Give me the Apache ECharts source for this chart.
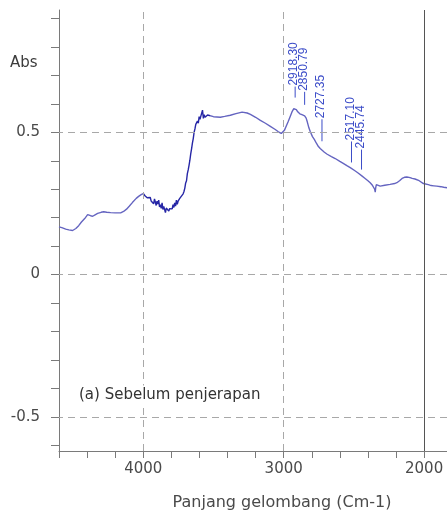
<!DOCTYPE html>
<html>
<head>
<meta charset="utf-8">
<style>
  html, body { margin: 0; padding: 0; background: #fff; overflow: hidden; }
  #chart { width: 447px; height: 516px; }
</style>
<script src="https://cdn.jsdelivr.net/npm/echarts@6/dist/echarts.min.js"></script>
</head>
<body>
<div id="chart"></div>
<script>
// IR spectrum, absorbance vs wavenumber (cm-1)
const spectrumWn = [
  4600, 4580, 4552, 4530, 4503, 4480, 4460, 4440, 4417, 4396, 4385, 4375, 4360, 4340, 4325, 4300,
  4282, 4260, 4232, 4200, 4161, 4140, 4119, 4100, 4076, 4050, 4033, 4015, 4000,
  3995, 3988, 3980, 3972, 3965, 3958, 3950, 3944, 3938, 3932, 3926, 3920, 3914, 3908, 3902, 3896,
  3890, 3884, 3878, 3872, 3866, 3860, 3854, 3848, 3842, 3836, 3830, 3824, 3818, 3812, 3806, 3800,
  3794, 3788, 3782, 3776, 3770, 3764, 3758, 3752, 3746, 3740, 3734, 3728, 3722, 3716, 3710, 3704,
  3698, 3692, 3686, 3680, 3674, 3668, 3662, 3656, 3650, 3644, 3638, 3632, 3626, 3620, 3614, 3608,
  3602, 3596, 3590, 3584, 3578, 3572, 3566, 3560, 3554, 3548, 3542, 3536, 3528,
  3500, 3451, 3420, 3380, 3340, 3296, 3260, 3237, 3200, 3166, 3130, 3095, 3060, 3038, 3017, 3005,
  2995, 2980, 2967, 2950, 2939, 2928, 2918.3, 2910, 2900, 2885, 2870, 2850.79, 2840, 2832, 2820, 2811,
  2795, 2782, 2765, 2754, 2740, 2727.35, 2710, 2690, 2660, 2633, 2600, 2576, 2550, 2526, 2517.1, 2490,
  2470, 2445.74, 2420, 2400, 2384, 2370, 2360, 2352, 2348, 2345, 2340, 2330, 2313, 2280, 2242, 2210,
  2194, 2175, 2157, 2140, 2123, 2100, 2085, 2065, 2052, 2035, 2021, 2005, 1993, 1970, 1950, 1930,
  1910, 1880, 1860, 1837
];
const spectrumAbs = [
  0.168, 0.165, 0.160, 0.157, 0.155, 0.162, 0.172, 0.185, 0.197, 0.211, 0.210, 0.207, 0.205, 0.211, 0.215, 0.219,
  0.221, 0.219, 0.218, 0.217, 0.217, 0.222, 0.230, 0.240, 0.254, 0.268, 0.275, 0.281, 0.285,
  0.281, 0.277, 0.279, 0.270, 0.272, 0.266, 0.271, 0.259, 0.264, 0.262, 0.249, 0.266, 0.255, 0.243, 0.258, 0.248,
  0.262, 0.238, 0.246, 0.233, 0.252, 0.229, 0.240, 0.236, 0.218, 0.234, 0.229, 0.241, 0.223, 0.232, 0.226, 0.238,
  0.231, 0.246, 0.236, 0.252, 0.241, 0.262, 0.247, 0.258, 0.251, 0.268, 0.262, 0.276, 0.270, 0.284, 0.292, 0.304,
  0.322, 0.330, 0.355, 0.368, 0.384, 0.402, 0.424, 0.442, 0.462, 0.478, 0.500, 0.512, 0.528, 0.522, 0.540, 0.532,
  0.555, 0.546, 0.552, 0.548, 0.578, 0.549, 0.562, 0.553, 0.558, 0.556, 0.561, 0.554, 0.558,
  0.555, 0.553, 0.556, 0.560, 0.566, 0.571, 0.568, 0.563, 0.553, 0.542, 0.532, 0.521, 0.510, 0.502, 0.496, 0.498,
  0.507, 0.524, 0.539, 0.560, 0.574, 0.583, 0.587, 0.580, 0.572, 0.565, 0.562, 0.558, 0.550, 0.537, 0.515, 0.503,
  0.485, 0.475, 0.460, 0.451, 0.443, 0.437, 0.430, 0.423, 0.415, 0.408, 0.398, 0.391, 0.383, 0.376, 0.373, 0.364,
  0.357, 0.348, 0.338, 0.330, 0.323, 0.315, 0.308, 0.300, 0.290, 0.305, 0.316, 0.313, 0.311, 0.314, 0.317, 0.320,
  0.323, 0.330, 0.338, 0.342, 0.343, 0.341, 0.338, 0.336, 0.335, 0.330, 0.324, 0.320, 0.319, 0.316, 0.313, 0.312,
  0.311, 0.309, 0.307, 0.305
];

// Picked peaks
const peakWn = [2918.30, 2850.79, 2727.35, 2517.10, 2445.74];
const peakAbs = [0.587, 0.558, 0.437, 0.373, 0.348];

// Axis ticks and labels
const xTickValues = [2000, 2200, 2400, 2600, 2800, 3000, 3200, 3400, 3600, 3800, 4000, 4200, 4400, 4600];
const xLabelValues = [2000, 3000, 4000];
const yTickValues = [-0.6, -0.5, -0.4, -0.3, -0.2, -0.1, 0, 0.1, 0.2, 0.3, 0.4, 0.5, 0.6, 0.7, 0.8, 0.9];
const yLabelValues = [-0.5, 0, 0.5];
const dashedX = [4000, 3000];
const solidX = [2000];
const dashedY = [0.5, 0, -0.5];

// Leader line geometry for the peak labels (px)
const peakGap = [10, 11, 9, 6, 6];
const peakLen = [11, 13, 22, 21, 20];

const spectrum = spectrumWn.map((w, i) => [w, spectrumAbs[i]]);
const peaks = peakWn.map((w, i) => [w, peakAbs[i]]);

const axisGray = '#7a7a7a';
const textGray = '#4a4a4a';
const peakBlue = '#3b4cc8';
const tickFont = 'DejaVu Sans';

const chart = echarts.init(document.getElementById('chart'), null, { renderer: 'canvas', width: 447, height: 516 });

chart.setOption({
  animation: false,
  backgroundColor: '#ffffff',
  grid: { left: 59, right: 0, top: 10, bottom: 65, containLabel: false, outerBoundsMode: 'none' },
  xAxis: {
    type: 'value',
    inverse: true,
    min: 1837,
    max: 4600,
    axisLine: { show: true, onZero: false, lineStyle: { color: axisGray, width: 1 } },
    axisTick: { show: true, length: 7, customValues: xTickValues, lineStyle: { color: axisGray } },
    axisLabel: {
      customValues: xLabelValues,
      formatter: v => String(v),
      margin: 11,
      color: textGray,
      fontFamily: tickFont,
      fontSize: 15,
      hideOverlap: false
    },
    splitLine: { show: false }
  },
  yAxis: {
    type: 'value',
    min: -0.62,
    max: 0.93,
    axisLine: { show: true, onZero: false, lineStyle: { color: axisGray, width: 1 } },
    axisTick: { show: true, length: 8, customValues: yTickValues, lineStyle: { color: axisGray } },
    axisLabel: {
      customValues: yLabelValues,
      formatter: v => String(v),
      margin: 19,
      color: textGray,
      fontFamily: tickFont,
      fontSize: 15
    },
    splitLine: { show: false }
  },
  visualMap: {
    show: false,
    type: 'piecewise',
    seriesIndex: 0,
    dimension: 0,
    pieces: [{ min: 3525, max: 3998, color: '#2626a6' }],
    outOfRange: { color: '#6464c0' }
  },
  graphic: [
    {
      type: 'text', left: 10, top: 56,
      style: { text: 'Abs', fill: '#3c3c3c', font: '15px "DejaVu Sans"' }
    },
    {
      type: 'text', x: 78, y: 395, z: 10,
      style: {
        text: '(a) Sebelum penjerapan', fill: '#333333',
        font: '15px "DejaVu Sans"', verticalAlign: 'middle', align: 'left',
        backgroundColor: '#ffffff', padding: [2, 1]
      }
    },
    {
      type: 'text', x: 282, y: 503,
      style: {
        text: 'Panjang gelombang (Cm-1)', fill: textGray,
        font: '16px "DejaVu Sans"', verticalAlign: 'middle', align: 'center'
      }
    }
  ],
  series: [
    {
      type: 'line',
      data: spectrum,
      showSymbol: false,
      smooth: false,
      lineStyle: { width: 1.4 },
      z: 3,
      markLine: {
        silent: true,
        symbol: ['none', 'none'],
        label: { show: false },
        animation: false,
        data: [
          ...dashedX.map(v => ({ xAxis: v, lineStyle: { color: '#a8a8a8', type: [7, 5], width: 1 } })),
          ...solidX.map(v => ({ xAxis: v, lineStyle: { color: '#555555', type: 'solid', width: 1 } })),
          ...dashedY.map(v => ({ yAxis: v, lineStyle: { color: '#a8a8a8', type: [7, 5], width: 1 } }))
        ]
      }
    },
    {
      type: 'custom',
      data: peaks,
      z: 4,
      silent: true,
      renderItem: function (params, api) {
        const i = params.dataIndex;
        const p = api.coord([api.value(0), api.value(1)]);
        const yBottom = p[1] - peakGap[i];
        const yTop = yBottom - peakLen[i];
        return {
          type: 'group',
          children: [
            {
              type: 'line',
              shape: { x1: p[0], y1: yBottom, x2: p[0], y2: yTop },
              style: { stroke: peakBlue, lineWidth: 1 }
            },
            {
              type: 'text',
              x: p[0] - 1,
              y: yTop - 1,
              rotation: Math.PI / 2,
              style: {
                text: peakWn[i].toFixed(2),
                fill: peakBlue,
                font: '12px "Liberation Sans"',
                align: 'left',
                verticalAlign: 'middle'
              }
            }
          ]
        };
      }
    }
  ]
});
</script>
</body>
</html>
